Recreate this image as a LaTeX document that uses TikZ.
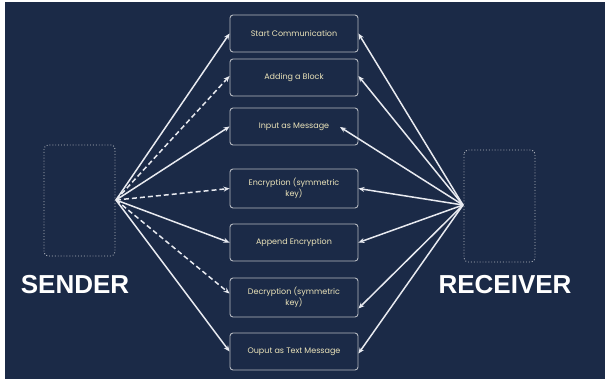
\documentclass[tikz,border=0pt]{standalone}
\usepackage{fontspec}
\setmainfont{Poppins}
\newfontfamily\bigfont{Liberation Sans}
\usetikzlibrary{arrows.meta}
\definecolor{bg}{HTML}{1B2A47}
\definecolor{boxline}{HTML}{B4B8C0}
\definecolor{txt}{HTML}{ECE4BA}
\definecolor{arr}{HTML}{E8EAF0}
\begin{document}
\begin{tikzpicture}[x=1pt,y=-1pt,
  stepbox/.style={draw=boxline, line width=0.9pt, rounded corners=3pt, minimum width=128pt, minimum height=37pt, inner sep=0pt, align=center, text=txt, font=\fontsize{8}{11}\selectfont},
  partybox/.style={draw=boxline, dotted, line width=0.9pt, rounded corners=4pt},
  bigtxt/.style={text=white, font=\bigfont\bfseries\fontsize{26}{28}\selectfont, inner sep=0pt},
  link/.style={draw=arr, line width=1.5pt, -{Stealth[length=6pt,width=5pt]}},
  dlink/.style={link, dash pattern=on 5pt off 3pt}
]
\useasboundingbox (0,0) rectangle (605,381);
\fill[white] (0,0) rectangle (605,381);
\fill[bg] (5,2) rectangle (605,379);

\node[stepbox] (b1) at (294,33.5) {Start Communication};
\node[stepbox] (b2) at (294,77.5) {Adding a Block};
\node[stepbox] (b3) at (294,126.5) {Input as Message};
\node[stepbox, minimum height=39pt] (b4) at (294,188.5) {Encryption (symmetric\\key)};
\node[stepbox] (b5) at (294,242.5) {Append Encryption};
\node[stepbox, minimum height=39pt] (b6) at (294,297.5) {Decryption (symmetric\\key)};
\node[stepbox] (b7) at (294,351.5) {Ouput as Text Message};

\draw[partybox] (44,145) rectangle (115,256);
\draw[partybox] (464,150) rectangle (535,262);
\coordinate (s) at (116,200);
\coordinate (r) at (463,205);
\coordinate (b3in) at (340,127);

\node[bigtxt] (sender) at (75,285) {SENDER};
\node[bigtxt] (receiver) at (505,285) {RECEIVER};

\draw[link] (s) -- (b1.west);
\draw[dlink] (s) -- ([yshift=1.5pt]b2.west);
\draw[link] (s) -- (b3.west);
\draw[dlink] (s) -- (b4.west);
\draw[link] (s) -- (b5.west);
\draw[dlink] (s) -- ([yshift=4pt]b6.west);
\draw[link] (s) -- (b7.west);

\draw[link] (r) -- (b1.east);
\draw[link] (r) -- ([yshift=1.5pt]b2.east);
\draw[link] (r) -- (b3in);
\draw[link] (r) -- (b4.east);
\draw[link] (r) -- (b5.east);
\draw[link] (r) -- ([yshift=-11pt]b6.east);
\draw[link] (r) -- ([yshift=-2pt]b7.east);
\end{tikzpicture}
\end{document}
